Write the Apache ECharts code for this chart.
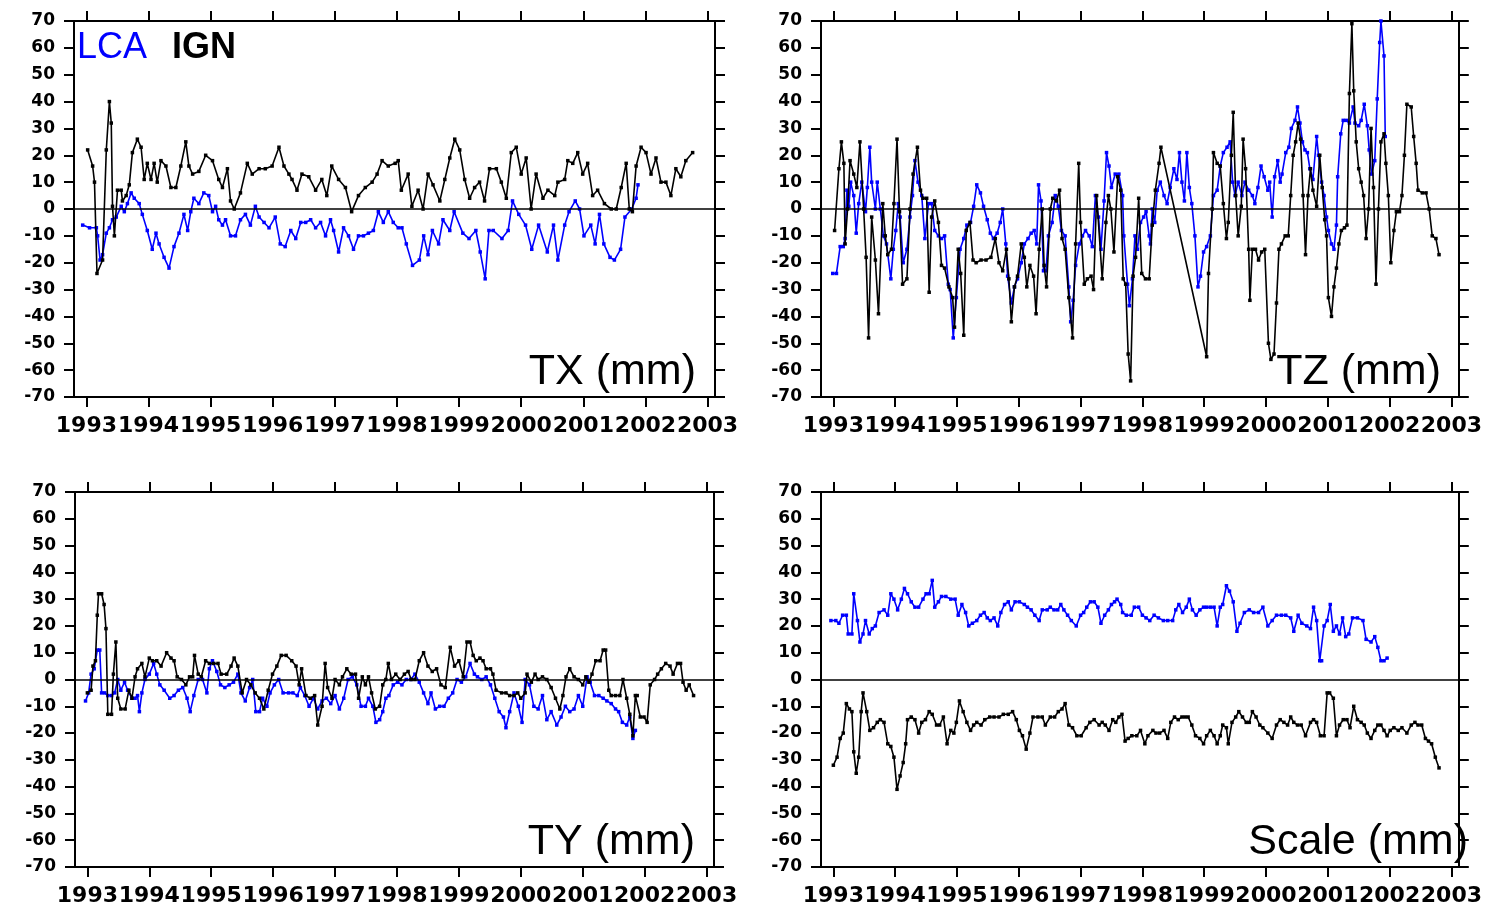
<!DOCTYPE html>
<html>
<head>
<meta charset="utf-8">
<title>LCA / IGN</title>
<script src="https://cdn.jsdelivr.net/npm/echarts@6/dist/echarts.min.js"></script>
<style>
  html, body { margin: 0; padding: 0; background: #fff; }
  #chart { width: 1485px; height: 907px; }
</style>
</head>
<body>
<div id="chart"></div>
<script>
// tick labels
const years = [1993, 1994, 1995, 1996, 1997, 1998, 1999, 2000, 2001, 2002, 2003];
const xRange = [1992.8, 2003.12];
const yRange = [-70, 70];
const yStep = 10;
const panelTitles = ['TX (mm)', 'TZ (mm)', 'TY (mm)', 'Scale (mm)'];
const seriesNames = ['LCA', 'IGN'];

// [decimal year, mm]
const TX_LCA = [[1992.94,-6],[1993.05,-7],[1993.16,-7],[1993.18,-10],[1993.22,-19],[1993.26,-17],[1993.32,-9],[1993.37,-7],[1993.42,-4],[1993.48,-3],[1993.56,1],[1993.61,-1],[1993.66,2],[1993.72,6],[1993.77,4],[1993.85,2],[1993.90,-2],[1993.98,-8],[1994.06,-15],[1994.12,-9],[1994.17,-13],[1994.25,-18],[1994.33,-22],[1994.41,-14],[1994.49,-9],[1994.57,-2],[1994.63,-8],[1994.68,-1],[1994.73,4],[1994.81,2],[1994.89,6],[1994.97,5],[1995.03,-1],[1995.08,1],[1995.13,-4],[1995.19,-6],[1995.24,-4],[1995.32,-10],[1995.40,-10],[1995.48,-4],[1995.56,-2],[1995.64,-6],[1995.72,1],[1995.78,-3],[1995.86,-5],[1995.94,-7],[1996.04,-3],[1996.12,-13],[1996.20,-14],[1996.29,-8],[1996.37,-11],[1996.45,-5],[1996.53,-5],[1996.61,-4],[1996.69,-7],[1996.77,-5],[1996.85,-10],[1996.93,-4],[1996.98,-8],[1997.06,-16],[1997.14,-7],[1997.22,-10],[1997.30,-15],[1997.38,-10],[1997.46,-10],[1997.54,-9],[1997.62,-8],[1997.70,-1],[1997.78,-5],[1997.86,-1],[1997.94,-5],[1998.02,-7],[1998.08,-7],[1998.15,-13],[1998.25,-21],[1998.36,-19],[1998.43,-10],[1998.50,-17],[1998.57,-8],[1998.67,-13],[1998.74,-4],[1998.85,-8],[1998.92,-1],[1999.06,-9],[1999.16,-11],[1999.27,-8],[1999.34,-16],[1999.42,-26],[1999.48,-8],[1999.55,-8],[1999.69,-11],[1999.79,-8],[1999.86,3],[1999.96,-2],[2000.07,-6],[2000.17,-15],[2000.28,-6],[2000.42,-16],[2000.52,-6],[2000.59,-19],[2000.70,-6],[2000.77,-1],[2000.87,3],[2000.94,0],[2001.01,-10],[2001.12,-6],[2001.19,-13],[2001.26,-2],[2001.33,-13],[2001.43,-18],[2001.50,-19],[2001.60,-15],[2001.67,-3],[2001.78,0],[2001.85,4],[2001.88,9]];
const TX_IGN = [[1993.02,22],[1993.10,16],[1993.13,10],[1993.17,-24],[1993.26,-19],[1993.32,22],[1993.37,40],[1993.40,32],[1993.42,1],[1993.45,-10],[1993.50,7],[1993.56,7],[1993.58,3],[1993.64,5],[1993.69,9],[1993.74,21],[1993.82,26],[1993.88,23],[1993.93,11],[1993.98,17],[1994.04,11],[1994.09,17],[1994.14,10],[1994.20,18],[1994.28,16],[1994.36,8],[1994.44,8],[1994.52,16],[1994.60,25],[1994.65,16],[1994.71,13],[1994.81,14],[1994.92,20],[1995.03,18],[1995.13,11],[1995.19,8],[1995.27,15],[1995.32,3],[1995.38,0],[1995.48,6],[1995.59,17],[1995.67,13],[1995.78,15],[1995.88,15],[1995.99,16],[1996.10,23],[1996.18,16],[1996.26,13],[1996.31,11],[1996.39,7],[1996.47,13],[1996.58,12],[1996.69,7],[1996.79,11],[1996.87,5],[1996.95,16],[1997.06,11],[1997.17,8],[1997.27,-1],[1997.38,5],[1997.49,8],[1997.60,10],[1997.68,13],[1997.76,18],[1997.86,16],[1997.97,17],[1998.02,18],[1998.07,7],[1998.18,13],[1998.24,1],[1998.34,7],[1998.42,0],[1998.50,13],[1998.58,9],[1998.69,3],[1998.77,11],[1998.85,19],[1998.93,26],[1999.01,22],[1999.09,11],[1999.17,4],[1999.25,8],[1999.33,10],[1999.41,3],[1999.49,15],[1999.60,15],[1999.68,10],[1999.76,4],[1999.84,21],[1999.92,23],[2000.00,13],[2000.08,19],[2000.16,0],[2000.24,13],[2000.35,4],[2000.43,7],[2000.54,5],[2000.59,10],[2000.70,11],[2000.75,18],[2000.83,17],[2000.91,21],[2000.99,13],[2001.07,17],[2001.15,5],[2001.23,7],[2001.34,2],[2001.45,0],[2001.53,0],[2001.61,8],[2001.69,17],[2001.74,0],[2001.79,-1],[2001.85,16],[2001.93,23],[2002.01,21],[2002.09,13],[2002.17,19],[2002.25,10],[2002.33,10],[2002.41,5],[2002.49,15],[2002.57,12],[2002.65,18],[2002.76,21]];

const TZ_LCA = [[1992.99,-24],[1993.05,-24],[1993.11,-14],[1993.16,-14],[1993.19,-11],[1993.22,7],[1993.25,1],[1993.28,10],[1993.33,5],[1993.37,-9],[1993.41,2],[1993.46,10],[1993.52,-1],[1993.55,8],[1993.59,23],[1993.62,10],[1993.68,0],[1993.71,10],[1993.76,0],[1993.81,-10],[1993.86,-13],[1993.93,-26],[1993.97,-15],[1994.01,-8],[1994.05,2],[1994.08,-3],[1994.13,-20],[1994.19,-15],[1994.24,-3],[1994.28,5],[1994.32,18],[1994.37,10],[1994.43,5],[1994.48,-11],[1994.54,2],[1994.59,2],[1994.64,-8],[1994.70,-10],[1994.75,-11],[1994.80,-10],[1994.86,-28],[1994.89,-30],[1994.94,-48],[1994.99,-33],[1995.05,-15],[1995.11,-11],[1995.16,-6],[1995.22,-5],[1995.27,1],[1995.32,9],[1995.38,6],[1995.43,1],[1995.49,-4],[1995.54,-9],[1995.59,-11],[1995.65,-9],[1995.70,-5],[1995.74,0],[1995.79,-13],[1995.82,-25],[1995.88,-35],[1995.93,-29],[1995.98,-26],[1996.04,-20],[1996.09,-13],[1996.15,-11],[1996.20,-9],[1996.25,-8],[1996.29,-13],[1996.32,9],[1996.36,3],[1996.40,-23],[1996.44,-23],[1996.48,-10],[1996.54,-5],[1996.59,5],[1996.64,1],[1996.69,-8],[1996.75,-10],[1996.81,-29],[1996.84,-42],[1996.88,-34],[1996.92,-21],[1996.98,-13],[1997.03,-10],[1997.08,-8],[1997.14,-10],[1997.19,-14],[1997.24,5],[1997.29,-3],[1997.33,-15],[1997.38,3],[1997.42,21],[1997.46,16],[1997.50,8],[1997.56,13],[1997.62,13],[1997.68,5],[1997.70,-10],[1997.76,-28],[1997.79,-36],[1997.84,-26],[1997.88,-10],[1997.92,-15],[1997.97,-5],[1998.02,-3],[1998.06,-1],[1998.11,-10],[1998.13,-13],[1998.16,0],[1998.20,-5],[1998.24,7],[1998.29,10],[1998.35,5],[1998.40,2],[1998.45,8],[1998.51,15],[1998.56,11],[1998.60,21],[1998.64,10],[1998.68,3],[1998.72,21],[1998.76,8],[1998.80,2],[1998.85,-10],[1998.90,-29],[1998.94,-25],[1998.99,-16],[1999.04,-14],[1999.10,-10],[1999.15,5],[1999.21,7],[1999.26,16],[1999.31,21],[1999.37,23],[1999.42,25],[1999.46,10],[1999.50,5],[1999.55,10],[1999.61,5],[1999.66,10],[1999.72,7],[1999.78,5],[1999.82,2],[1999.87,8],[1999.92,16],[1999.97,12],[2000.03,7],[2000.06,10],[2000.10,-3],[2000.14,12],[2000.19,18],[2000.23,10],[2000.26,13],[2000.32,21],[2000.37,23],[2000.41,30],[2000.47,33],[2000.51,38],[2000.55,32],[2000.59,25],[2000.63,22],[2000.67,21],[2000.71,15],[2000.76,11],[2000.82,27],[2000.85,20],[2000.90,10],[2000.94,5],[2000.98,-3],[2001.01,-8],[2001.06,-13],[2001.10,-15],[2001.14,-6],[2001.16,12],[2001.21,28],[2001.25,33],[2001.30,33],[2001.35,32],[2001.41,38],[2001.44,32],[2001.50,31],[2001.54,33],[2001.59,39],[2001.64,31],[2001.67,22],[2001.71,13],[2001.76,18],[2001.80,41],[2001.84,62],[2001.86,70],[2001.91,57],[2001.93,27]];
const TZ_IGN = [[1993.02,-8],[1993.09,15],[1993.13,25],[1993.17,17],[1993.19,-13],[1993.23,0],[1993.27,18],[1993.33,13],[1993.38,8],[1993.43,25],[1993.49,0],[1993.53,-18],[1993.57,-48],[1993.62,-3],[1993.68,-19],[1993.73,-39],[1993.80,2],[1993.84,-10],[1993.88,-17],[1993.94,-15],[1993.98,2],[1994.03,26],[1994.07,-1],[1994.12,-28],[1994.19,-26],[1994.24,0],[1994.29,13],[1994.36,23],[1994.41,7],[1994.45,4],[1994.51,4],[1994.55,-31],[1994.59,-3],[1994.64,3],[1994.70,-5],[1994.75,-21],[1994.80,-22],[1994.87,-29],[1994.93,-33],[1994.96,-44],[1995.02,-15],[1995.06,-24],[1995.11,-47],[1995.15,-8],[1995.21,-5],[1995.26,-19],[1995.31,-20],[1995.39,-19],[1995.47,-19],[1995.55,-18],[1995.62,-11],[1995.68,-20],[1995.74,-23],[1995.80,-15],[1995.84,-26],[1995.88,-42],[1995.93,-29],[1995.98,-25],[1996.04,-13],[1996.09,-18],[1996.13,-29],[1996.18,-21],[1996.24,-25],[1996.28,-39],[1996.33,-15],[1996.38,0],[1996.41,-21],[1996.45,-29],[1996.51,0],[1996.55,4],[1996.61,3],[1996.66,7],[1996.70,-11],[1996.75,-15],[1996.81,-33],[1996.87,-48],[1996.92,-13],[1996.97,17],[1997.00,-5],[1997.06,-28],[1997.11,-26],[1997.17,-25],[1997.21,-30],[1997.26,5],[1997.35,-26],[1997.41,-5],[1997.45,5],[1997.49,0],[1997.54,-16],[1997.60,12],[1997.65,7],[1997.69,-26],[1997.73,-28],[1997.77,-54],[1997.81,-64],[1997.85,-25],[1997.89,-18],[1997.94,4],[1997.99,-24],[1998.05,-26],[1998.11,-26],[1998.16,-6],[1998.21,7],[1998.27,17],[1998.30,23],[1999.04,-55],[1999.07,-24],[1999.13,0],[1999.15,21],[1999.21,17],[1999.26,16],[1999.31,2],[1999.36,-11],[1999.39,-5],[1999.44,20],[1999.47,36],[1999.51,5],[1999.55,-10],[1999.60,1],[1999.63,26],[1999.67,15],[1999.72,-15],[1999.74,-34],[1999.78,-15],[1999.83,-15],[1999.88,-19],[1999.93,-16],[1999.98,-15],[2000.04,-50],[2000.08,-56],[2000.13,-54],[2000.17,-35],[2000.21,-15],[2000.25,-13],[2000.31,-10],[2000.36,-10],[2000.40,5],[2000.44,20],[2000.48,25],[2000.52,32],[2000.56,26],[2000.60,5],[2000.64,-17],[2000.68,5],[2000.72,15],[2000.76,7],[2000.82,1],[2000.87,20],[2000.91,8],[2000.95,-4],[2000.98,-10],[2001.01,-33],[2001.06,-40],[2001.10,-29],[2001.14,-22],[2001.18,-13],[2001.22,-8],[2001.27,-7],[2001.31,-6],[2001.35,43],[2001.39,69],[2001.42,44],[2001.46,25],[2001.50,15],[2001.54,10],[2001.58,5],[2001.62,-11],[2001.66,0],[2001.70,30],[2001.74,8],[2001.78,-28],[2001.82,0],[2001.86,25],[2001.91,28],[2001.94,17],[2001.98,5],[2002.02,-20],[2002.07,-8],[2002.11,-1],[2002.16,-1],[2002.20,5],[2002.24,20],[2002.28,39],[2002.35,38],[2002.39,27],[2002.43,17],[2002.46,7],[2002.53,6],[2002.59,6],[2002.64,0],[2002.69,-10],[2002.75,-11],[2002.80,-17]];

const TY_LCA = [[1992.97,-8],[1993.02,-5],[1993.06,2],[1993.11,4],[1993.16,11],[1993.20,11],[1993.23,-5],[1993.28,-5],[1993.33,-6],[1993.39,-6],[1993.44,-5],[1993.49,0],[1993.54,-4],[1993.60,-1],[1993.65,-4],[1993.72,-7],[1993.77,-7],[1993.81,-6],[1993.84,-12],[1993.88,-5],[1993.93,0],[1994.00,2],[1994.07,6],[1994.12,2],[1994.17,-2],[1994.24,-4],[1994.33,-7],[1994.40,-6],[1994.47,-4],[1994.54,-3],[1994.61,-7],[1994.66,-12],[1994.72,-6],[1994.79,0],[1994.86,0],[1994.93,-5],[1994.97,4],[1995.02,7],[1995.09,3],[1995.15,-2],[1995.22,-3],[1995.29,-2],[1995.36,-1],[1995.43,2],[1995.48,-5],[1995.55,-8],[1995.62,-3],[1995.67,0],[1995.72,-12],[1995.78,-12],[1995.83,-7],[1995.90,-10],[1995.95,-5],[1996.02,-2],[1996.09,0],[1996.16,-5],[1996.25,-5],[1996.32,-5],[1996.39,-6],[1996.44,-3],[1996.51,-6],[1996.58,-10],[1996.65,-7],[1996.72,-11],[1996.79,-8],[1996.86,-7],[1996.93,-9],[1997.00,-6],[1997.07,-11],[1997.14,-7],[1997.21,0],[1997.28,1],[1997.35,-2],[1997.42,-10],[1997.49,-10],[1997.54,-7],[1997.61,-10],[1997.66,-16],[1997.72,-15],[1997.77,-12],[1997.82,-7],[1997.87,-6],[1997.94,-2],[1998.01,-1],[1998.08,-2],[1998.15,0],[1998.22,0],[1998.29,2],[1998.36,-1],[1998.43,-5],[1998.50,-9],[1998.55,-5],[1998.62,-11],[1998.69,-10],[1998.76,-10],[1998.83,-7],[1998.90,-5],[1998.97,0],[1999.04,-1],[1999.11,1],[1999.18,6],[1999.25,2],[1999.30,1],[1999.37,0],[1999.44,1],[1999.51,-2],[1999.58,-7],[1999.65,-12],[1999.72,-14],[1999.76,-18],[1999.82,-12],[1999.89,-5],[1999.96,-10],[2000.02,-16],[2000.07,0],[2000.14,-2],[2000.21,-10],[2000.28,-11],[2000.35,-6],[2000.42,-15],[2000.49,-12],[2000.58,-17],[2000.65,-14],[2000.72,-10],[2000.79,-12],[2000.86,-11],[2000.93,-6],[2001.00,-10],[2001.07,1],[2001.12,-1],[2001.19,-6],[2001.26,-6],[2001.33,-7],[2001.39,-8],[2001.46,-9],[2001.53,-11],[2001.58,-12],[2001.64,-16],[2001.71,-17],[2001.76,-14],[2001.81,-22],[2001.85,-19]];
const TY_IGN = [[1993.00,-5],[1993.06,-4],[1993.09,5],[1993.13,7],[1993.16,24],[1993.18,32],[1993.23,32],[1993.27,28],[1993.30,19],[1993.33,-13],[1993.39,-13],[1993.42,2],[1993.46,14],[1993.49,-7],[1993.54,-11],[1993.61,-11],[1993.67,-4],[1993.72,-7],[1993.77,1],[1993.81,4],[1993.88,6],[1993.93,1],[1994.00,8],[1994.05,7],[1994.12,7],[1994.19,5],[1994.28,10],[1994.35,8],[1994.40,7],[1994.45,1],[1994.52,0],[1994.59,-2],[1994.65,1],[1994.70,1],[1994.73,9],[1994.79,2],[1994.84,1],[1994.91,7],[1994.97,6],[1995.04,6],[1995.11,6],[1995.16,2],[1995.25,2],[1995.32,5],[1995.37,8],[1995.43,5],[1995.50,-5],[1995.57,0],[1995.64,-2],[1995.71,-5],[1995.78,-7],[1995.85,-11],[1995.92,-4],[1995.99,2],[1996.06,5],[1996.13,9],[1996.21,9],[1996.30,7],[1996.37,5],[1996.42,-2],[1996.46,4],[1996.53,-6],[1996.60,-7],[1996.67,-6],[1996.72,-17],[1996.79,-10],[1996.84,6],[1996.88,-3],[1996.95,-7],[1997.00,0],[1997.07,-2],[1997.12,1],[1997.19,4],[1997.26,2],[1997.33,2],[1997.38,-7],[1997.44,1],[1997.49,-2],[1997.54,1],[1997.59,-5],[1997.65,-11],[1997.72,-10],[1997.77,-2],[1997.82,0],[1997.86,6],[1997.91,0],[1997.98,2],[1998.05,0],[1998.12,2],[1998.18,3],[1998.23,0],[1998.29,0],[1998.36,7],[1998.43,10],[1998.50,5],[1998.57,3],[1998.64,4],[1998.71,-2],[1998.78,-3],[1998.86,12],[1998.93,5],[1999.00,7],[1999.07,1],[1999.13,14],[1999.18,14],[1999.23,9],[1999.28,7],[1999.34,8],[1999.39,7],[1999.44,4],[1999.51,4],[1999.55,2],[1999.60,-4],[1999.69,-5],[1999.76,-5],[1999.82,-6],[1999.89,-6],[1999.95,-5],[2000.00,-7],[2000.07,-5],[2000.10,2],[2000.17,-1],[2000.23,2],[2000.28,0],[2000.35,1],[2000.42,0],[2000.49,-3],[2000.56,-7],[2000.63,-11],[2000.68,-6],[2000.73,1],[2000.79,4],[2000.86,1],[2000.93,0],[2001.00,-2],[2001.05,1],[2001.10,-1],[2001.15,2],[2001.21,7],[2001.28,7],[2001.33,11],[2001.37,11],[2001.42,-4],[2001.46,-6],[2001.53,-6],[2001.60,-6],[2001.65,0],[2001.71,-7],[2001.76,-13],[2001.81,-21],[2001.85,-6],[2001.88,-6],[2001.93,-14],[2001.99,-14],[2002.04,-16],[2002.09,-2],[2002.16,0],[2002.21,2],[2002.27,4],[2002.34,6],[2002.41,5],[2002.46,2],[2002.53,6],[2002.58,6],[2002.62,-1],[2002.67,-4],[2002.72,-2],[2002.79,-6]];

const SC_LCA = [[1992.96,22],[1993.04,22],[1993.09,21],[1993.15,24],[1993.21,24],[1993.24,17],[1993.30,17],[1993.33,32],[1993.39,22],[1993.43,14],[1993.48,17],[1993.52,22],[1993.58,17],[1993.63,19],[1993.68,20],[1993.74,25],[1993.82,26],[1993.88,24],[1993.93,32],[1993.98,30],[1994.04,26],[1994.10,30],[1994.15,34],[1994.20,32],[1994.26,29],[1994.32,27],[1994.38,27],[1994.45,30],[1994.50,32],[1994.55,32],[1994.60,37],[1994.64,27],[1994.70,29],[1994.75,31],[1994.82,31],[1994.90,30],[1994.97,30],[1995.02,24],[1995.08,28],[1995.14,25],[1995.19,20],[1995.25,21],[1995.32,22],[1995.38,24],[1995.44,25],[1995.49,23],[1995.54,22],[1995.60,23],[1995.66,20],[1995.71,25],[1995.77,28],[1995.83,29],[1995.88,26],[1995.94,29],[1996.01,29],[1996.09,28],[1996.14,27],[1996.20,26],[1996.26,24],[1996.33,22],[1996.38,26],[1996.46,26],[1996.51,27],[1996.57,26],[1996.63,26],[1996.68,28],[1996.73,26],[1996.79,24],[1996.85,22],[1996.93,20],[1997.00,24],[1997.05,25],[1997.10,27],[1997.16,29],[1997.22,29],[1997.28,27],[1997.33,21],[1997.39,24],[1997.45,26],[1997.50,28],[1997.55,29],[1997.59,30],[1997.65,28],[1997.68,25],[1997.74,24],[1997.82,24],[1997.87,27],[1997.94,27],[1998.00,24],[1998.06,23],[1998.12,22],[1998.19,24],[1998.26,23],[1998.34,22],[1998.41,22],[1998.49,22],[1998.54,26],[1998.59,28],[1998.65,25],[1998.71,27],[1998.76,30],[1998.81,26],[1998.87,24],[1998.93,26],[1998.99,27],[1999.04,27],[1999.10,27],[1999.16,27],[1999.21,20],[1999.26,27],[1999.30,28],[1999.36,35],[1999.41,33],[1999.47,29],[1999.53,18],[1999.58,21],[1999.65,25],[1999.73,26],[1999.80,25],[1999.88,25],[1999.95,27],[2000.03,20],[2000.10,22],[2000.17,24],[2000.25,24],[2000.32,24],[2000.40,23],[2000.45,18],[2000.52,24],[2000.58,21],[2000.66,20],[2000.72,19],[2000.77,27],[2000.82,22],[2000.87,7],[2000.90,7],[2000.94,20],[2000.99,22],[2001.04,28],[2001.09,18],[2001.14,20],[2001.19,17],[2001.24,23],[2001.29,16],[2001.34,17],[2001.40,23],[2001.48,23],[2001.57,22],[2001.62,15],[2001.70,14],[2001.76,16],[2001.81,12],[2001.86,7],[2001.91,7],[2001.96,8]];
const SC_IGN = [[1993.00,-32],[1993.06,-29],[1993.11,-22],[1993.16,-20],[1993.21,-9],[1993.26,-11],[1993.30,-12],[1993.33,-27],[1993.37,-35],[1993.41,-29],[1993.45,-12],[1993.48,-5],[1993.54,-12],[1993.59,-19],[1993.65,-18],[1993.71,-16],[1993.76,-15],[1993.82,-16],[1993.88,-24],[1993.93,-25],[1993.98,-29],[1994.03,-41],[1994.08,-36],[1994.13,-31],[1994.17,-24],[1994.20,-15],[1994.26,-14],[1994.32,-15],[1994.38,-20],[1994.43,-16],[1994.49,-15],[1994.55,-12],[1994.60,-13],[1994.67,-17],[1994.72,-17],[1994.78,-14],[1994.84,-24],[1994.90,-19],[1994.95,-20],[1994.99,-16],[1995.04,-8],[1995.10,-12],[1995.16,-16],[1995.22,-19],[1995.27,-17],[1995.32,-16],[1995.39,-17],[1995.45,-15],[1995.53,-14],[1995.60,-14],[1995.68,-14],[1995.75,-13],[1995.83,-13],[1995.90,-12],[1995.96,-15],[1996.01,-19],[1996.06,-21],[1996.12,-26],[1996.18,-20],[1996.23,-14],[1996.31,-14],[1996.38,-14],[1996.43,-17],[1996.51,-14],[1996.58,-14],[1996.64,-12],[1996.70,-11],[1996.75,-9],[1996.81,-17],[1996.87,-18],[1996.94,-21],[1997.01,-21],[1997.09,-18],[1997.15,-16],[1997.22,-15],[1997.30,-17],[1997.35,-16],[1997.40,-17],[1997.46,-19],[1997.52,-15],[1997.57,-16],[1997.62,-14],[1997.67,-13],[1997.72,-23],[1997.77,-22],[1997.83,-21],[1997.91,-21],[1997.97,-19],[1998.04,-24],[1998.09,-21],[1998.17,-19],[1998.22,-20],[1998.28,-20],[1998.35,-19],[1998.41,-22],[1998.46,-16],[1998.52,-14],[1998.58,-15],[1998.64,-14],[1998.69,-14],[1998.74,-14],[1998.80,-17],[1998.86,-21],[1998.93,-22],[1998.99,-24],[1999.04,-21],[1999.10,-19],[1999.16,-21],[1999.21,-24],[1999.26,-21],[1999.30,-17],[1999.36,-18],[1999.39,-24],[1999.45,-16],[1999.51,-14],[1999.56,-12],[1999.62,-14],[1999.68,-16],[1999.73,-16],[1999.78,-12],[1999.84,-14],[1999.90,-17],[1999.95,-18],[2000.03,-20],[2000.10,-22],[2000.17,-17],[2000.23,-15],[2000.29,-16],[2000.35,-17],[2000.40,-14],[2000.45,-16],[2000.51,-17],[2000.57,-17],[2000.64,-21],[2000.72,-16],[2000.77,-15],[2000.82,-16],[2000.88,-21],[2000.94,-21],[2000.99,-5],[2001.03,-5],[2001.09,-7],[2001.14,-21],[2001.19,-17],[2001.25,-15],[2001.31,-15],[2001.36,-18],[2001.42,-10],[2001.48,-15],[2001.54,-16],[2001.59,-17],[2001.64,-20],[2001.70,-22],[2001.76,-19],[2001.81,-17],[2001.86,-17],[2001.91,-19],[2001.96,-21],[2002.01,-19],[2002.07,-18],[2002.14,-19],[2002.20,-18],[2002.28,-20],[2002.35,-17],[2002.41,-16],[2002.46,-17],[2002.52,-17],[2002.58,-22],[2002.63,-23],[2002.68,-24],[2002.74,-29],[2002.80,-33]];

const panelData = [[TX_LCA, TX_IGN], [TZ_LCA, TZ_IGN], [TY_LCA, TY_IGN], [SC_LCA, SC_IGN]];
const colors = ['#0000ff', '#000000'];

// plot areas (px)
const grids = [
  { left: 74, top: 21, width: 641, height: 376 },
  { left: 821, top: 21, width: 642, height: 376 },
  { left: 75, top: 492, width: 639, height: 377 },
  { left: 821, top: 492, width: 644, height: 377 }
];
const titlePos = [[696, 372], [1441, 372], [695, 842], [1468, 842]];

const axisLine = { show: true, onZero: false, lineStyle: { color: '#000', width: 2 } };
const tickStyle = { show: true, inside: false, length: 10, lineStyle: { color: '#000', width: 2 } };

let xAxis = [], yAxis = [], series = [], graphic = [];

grids.forEach((g, i) => {
  // bottom + top x axes
  xAxis.push({
    type: 'value', gridIndex: i, position: 'bottom',
    min: xRange[0], max: xRange[1],
    axisLine: axisLine,
    axisTick: Object.assign({ customValues: years }, tickStyle),
    axisLabel: {
      customValues: years, margin: 18,
      color: '#000', fontFamily: 'DejaVu Sans', fontWeight: 'bold', fontSize: 22,
      formatter: v => String(v)
    },
    splitLine: { show: false }
  });
  xAxis.push({
    type: 'value', gridIndex: i, position: 'top',
    min: xRange[0], max: xRange[1],
    axisLine: axisLine,
    axisTick: Object.assign({ customValues: years }, tickStyle),
    axisLabel: { show: false },
    splitLine: { show: false }
  });
  // left + right y axes
  yAxis.push({
    type: 'value', gridIndex: i, position: 'left',
    min: yRange[0], max: yRange[1], interval: yStep,
    axisLine: axisLine,
    axisTick: tickStyle,
    axisLabel: {
      margin: 19, color: '#000',
      fontFamily: 'DejaVu Sans', fontWeight: 'bold', fontSize: 17
    },
    splitLine: { show: false }
  });
  yAxis.push({
    type: 'value', gridIndex: i, position: 'right',
    min: yRange[0], max: yRange[1], interval: yStep,
    axisLine: axisLine,
    axisTick: tickStyle,
    axisLabel: { show: false },
    splitLine: { show: false }
  });

  panelData[i].forEach((d, k) => {
    series.push({
      name: seriesNames[k],
      type: 'line',
      xAxisIndex: 2 * i, yAxisIndex: 2 * i,
      data: d,
      symbol: 'rect', symbolSize: 3.5,
      showSymbol: true,
      lineStyle: { color: colors[k], width: 1.6 },
      itemStyle: { color: colors[k] },
      emphasis: { disabled: true },
      z: 3 + k,
      markLine: k === 1 ? {
        silent: true, symbol: 'none', animation: false,
        label: { show: false },
        lineStyle: { color: '#000', width: 1.6, type: 'solid' },
        data: [{ yAxis: 0 }]
      } : undefined
    });
  });

  graphic.push({
    type: 'text', z: 10,
    style: {
      text: panelTitles[i], x: titlePos[i][0], y: titlePos[i][1],
      fill: '#000', font: '43px "Liberation Sans"',
      textAlign: 'right', textVerticalAlign: 'middle'
    }
  });
});

// legend labels
graphic.push({
  type: 'text', z: 10,
  style: { text: seriesNames[0], x: 77, y: 48, fill: colors[0], font: '36px "Liberation Sans"', textVerticalAlign: 'middle' }
});
graphic.push({
  type: 'text', z: 10,
  style: { text: seriesNames[1], x: 172, y: 48, fill: colors[1], font: 'bold 36px "Liberation Sans"', textVerticalAlign: 'middle' }
});

const myChart = echarts.init(document.getElementById('chart'), null, { renderer: 'canvas' });
myChart.setOption({
  animation: false,
  backgroundColor: '#fff',
  grid: grids,
  xAxis: xAxis,
  yAxis: yAxis,
  series: series,
  graphic: graphic
});
</script>
</body>
</html>
